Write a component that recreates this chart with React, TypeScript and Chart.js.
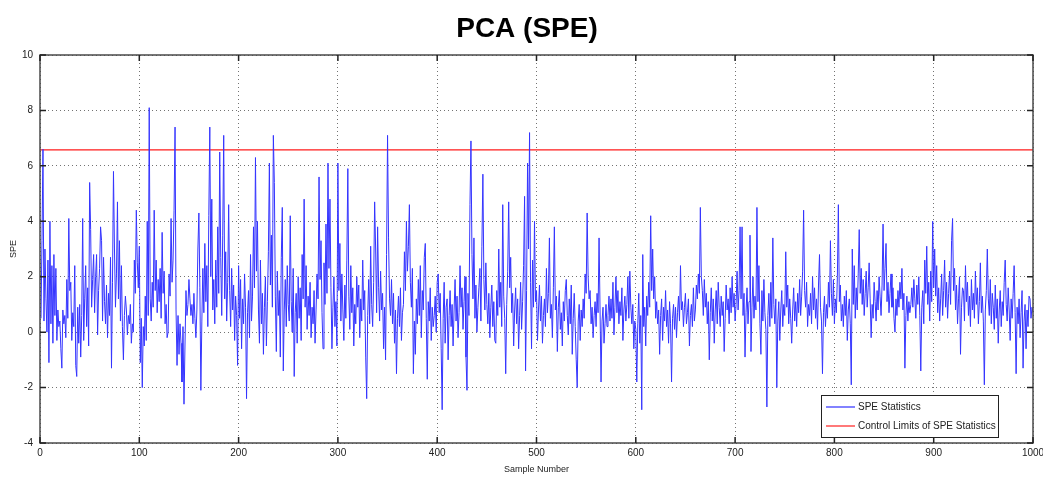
import { useEffect, useRef } from "react";
import { Chart, registerables } from "chart.js";

Chart.register(...registerables);

const TITLE = "PCA (SPE)";
const X_LABEL = "Sample Number";
const Y_LABEL = "SPE";
const SERIES_LABEL = "SPE Statistics";
const LIMIT_LABEL = "Control Limits of SPE Statistics";

const xTicks = [0, 100, 200, 300, 400, 500, 600, 700, 800, 900, 1000];
const yTicks = [-4, -2, 0, 2, 4, 6, 8, 10];
const limitX = [0, 1000];
const limitY = [6.58, 6.58];

const speValues = [
  0.5, 3.3, 6.6, 0.4, 3.0, 1.2, 0.0, 2.6, -1.1, 4.0, 0.3, 2.4, -0.4, 2.8, 0.6, 2.3, -0.3, 0.8, 0.2, 0.4, -0.6, -1.3, 0.8, 0.3, 0.6, -0.2, 1.9, 0.5, 4.1, 1.5, 1.8, -0.3, 0.7, 0.2, 2.4, -1.2, -1.6, 0.9, -0.4, 1.0, -0.9, 0.6, 4.1, -0.3, 1.2, 2.4, 0.2, 1.6, -0.5, 5.4,
  3.7, 0.9, 1.9, 2.8, 0.7, 2.0, 2.8, -0.1, 1.5, 2.3, 3.8, 3.3, 0.4, 2.7, 1.1, 0.3, 1.7, -0.2, 1.4, 0.6, 2.7, -1.3, 1.8, 5.8, 3.0, 0.9, 2.1, 4.7, 1.2, 3.3, 0.4, 2.4, 0.2, -1.0, 0.6, 1.3, 0.8, -0.1, 0.6, 0.3, 1.0, -0.4, 0.3, 0.0, 2.6, 1.4, 4.4, 2.5, 1.6, 3.1,
  -1.1, 0.5, -2.0, 0.2, -0.5, 1.3, -0.3, 4.0, 0.6, 8.1, 1.2, 0.4, 1.8, 0.9, 4.4, 1.5, 2.6, 0.7, 1.9, 1.1, 2.3, 0.5, 3.6, 1.4, 2.2, 0.3, 1.0, -0.2, 0.0, 2.1, 1.3, 4.1, 1.8, 2.6, 4.4, 7.4, 0.8, -1.2, 0.6, -0.8, 0.3, -0.4, -1.8, 0.2, -2.6, -0.5, 1.5, 0.6, 1.0, 1.9,
  1.2, 0.6, 1.0, 0.3, 1.4, 0.5, -0.2, 0.8, 3.0, 4.3, 1.6, -2.1, 0.4, 2.3, 0.7, 3.2, 1.1, 2.4, 0.2, 4.2, 7.4, 2.0, 4.8, 0.8, 1.9, 0.3, 2.6, 0.9, 3.8, 1.4, 6.5, 2.7, 0.6, 3.5, 7.1, 1.2, 2.9, 0.4, 1.8, 4.6, 1.5, 0.2, 2.3, 0.8, 1.7, -0.3, 1.3, 0.6, -1.2, 2.4,
  0.5, 1.9, -0.6, 1.2, 0.3, 2.1, 0.9, -2.4, 0.7, 1.5, -0.2, 2.8, 0.4, 1.3, 3.8, 1.6, 6.3, 2.2, 4.0, 0.8, -0.4, 2.6, 0.3, 1.4, -0.8, 0.9, 2.0, -0.5, 1.1, 2.9, 6.1, 1.7, 3.5, 0.9, 7.1, 5.4, 1.3, -0.7, 2.2, 0.6, 1.5, -0.9, 2.7, 4.5, -1.4, 0.8, 1.9, 0.2, 2.4, 1.0,
  0.4, 4.2, 1.1, 0.0, 2.3, -1.6, 0.7, 1.4, -0.4, 2.0, 0.5, 1.6, -0.3, 2.8, 1.2, 4.8, 0.9, 2.4, 0.1, 1.3, 0.6, 1.8, -0.2, 0.9, 0.3, 1.5, -0.4, 0.8, 2.1, 1.2, 5.6, 1.9, 3.3, 0.7, -0.6, 2.5, 1.0, 3.9, 1.4, 6.1, 2.3, 4.8, 1.6, -0.6, 0.9, 2.0, 0.2, 1.1, -0.5, 6.1,
  1.5, 3.2, 0.4, 2.1, 0.8, -0.3, 1.7, 0.5, 2.6, 5.9, 1.3, 0.1, 2.4, 0.7, 1.6, -0.5, 1.0, 0.3, 2.0, 0.9, 1.7, -0.2, 1.2, 0.4, 2.6, 0.8, 1.5, -0.9, -2.4, 0.6, 1.9, 0.3, 3.1, 1.0, 0.2, 1.8, 4.7, 3.0, 0.7, 3.8, 1.6, 0.4, 2.2, 0.8, 1.4, -0.6, 0.9, -1.0, 2.8, 7.1,
  3.4, 1.2, 0.6, 1.9, 0.3, 1.4, -0.4, 0.8, -1.5, 0.5, 1.3, 0.2, 1.6, -0.3, 0.7, 1.0, 2.9, 1.5, 4.0, 2.2, 3.1, 4.6, 1.8, 0.9, 2.3, -1.5, 0.4, -0.8, 1.2, 0.3, 1.9, 0.6, 2.4, -0.2, 1.5, 0.8, 2.7, 3.2, 0.5, -1.7, 1.1, 0.4, 1.6, -0.3, 0.9, 0.2, 0.6, 1.3, 0.0, 1.8,
  2.1, 0.7, 1.4, -0.6, -2.8, 0.5, 1.8, -0.4, 0.9, 1.2, -1.0, 0.6, 1.5, 0.2, 1.0, -0.5, 0.8, 1.9, 0.4, 1.3, -0.2, 0.7, 2.4, 0.9, 1.6, 0.1, 1.1, 2.0, -0.9, -2.1, 1.4, 0.6, 4.6, 6.9, 2.8, 1.2, 3.4, 0.5, 1.7, 0.0, 0.9, 1.6, 2.3, 0.4, 3.1, 5.7, 1.9, 0.8, 2.5, 1.0,
  0.3, 1.4, -0.2, 0.9, 1.7, 0.2, 1.1, -0.3, -0.4, 1.5, 0.6, 3.0, 0.9, 1.8, 0.2, 4.6, 1.3, 0.5, -1.5, 1.0, 2.2, 4.7, 1.6, 2.7, 0.7, 1.4, -0.5, 0.8, 1.6, 0.3, 1.2, -0.6, 0.6, 1.8, 0.1, 1.1, 2.4, 4.9, -1.4, 1.5, 6.1, 3.0, 7.2, 1.8, -0.6, 2.6, 0.9, 4.0, 1.1, 1.5,
  -0.3, 0.8, 1.7, 0.4, 1.3, -0.4, 0.6, 1.2, 0.2, 2.3, 0.7, 1.4, 3.4, 0.5, 1.0, -0.2, 1.6, 3.8, 0.8, 1.3, -0.7, 0.9, 1.5, 0.1, 0.7, -0.5, 1.1, 0.4, 1.5, 1.9, 0.6, -0.1, 1.2, 0.3, 1.7, -0.8, 0.5, 1.4, 0.2, -1.0, -2.0, 0.4, 1.0, -0.3, 0.8, 0.2, 1.2, 0.5, 2.1, 1.4,
  4.3, 2.0, 1.2, 1.5, 0.3, 0.9, -0.2, 0.6, 1.1, 0.2, 1.4, 0.7, 3.4, 0.8, -1.8, 0.4, 0.9, -0.4, 0.3, 1.0, 0.2, 0.6, 1.3, 0.4, 1.2, 0.5, 1.8, -0.1, 0.9, 2.0, 0.7, 1.5, 0.3, 1.1, 0.6, 1.6, -0.3, 0.8, 1.3, 0.4, 1.0, 2.0, 0.5, 2.2, 0.9, 0.3, 1.0, -0.6, 0.4, 0.1,
  -1.8, 0.3, 1.4, -0.4, 0.6, -2.8, 2.8, 0.2, 0.9, -0.5, 1.3, 0.6, 1.8, 0.9, 4.2, 1.5, 3.0, 1.2, 2.0, 0.5, 1.1, 0.3, 0.8, -0.8, 0.6, 1.2, -0.3, 0.9, 0.4, 1.5, 0.2, 0.8, -0.4, 1.1, 0.3, -1.8, 0.5, 1.0, 0.1, 0.9, -0.2, 0.7, 1.3, 0.4, 2.4, 0.8, 1.1, 0.2, 0.9, 1.4,
  0.3, 0.7, 1.2, -0.5, 0.6, 1.0, 0.2, 1.6, 0.4, 0.8, 1.7, 1.2, 2.1, 1.4, 4.5, 2.0, 1.5, 0.6, 1.9, 0.9, 1.4, 0.3, 1.1, -1.0, 0.7, 1.6, 0.4, 1.2, -0.4, 0.8, 1.5, 0.3, 1.8, 0.9, 0.2, 1.3, 0.6, 1.1, -0.7, 0.5, 1.7, 0.8, 1.2, 0.3, 1.6, 0.7, 2.0, 0.9, 1.4, 0.4,
  1.0, 2.2, 0.8, 1.5, 3.8, 1.2, 3.8, 0.6, 1.4, -0.9, 0.7, 1.6, 0.3, 1.1, 3.5, -0.7, 0.9, 2.0, 0.5, 1.3, 0.8, 4.5, 1.1, 2.4, 0.3, -0.8, 1.5, 0.4, 1.9, 0.7, 0.1, -2.7, 0.6, 1.4, 0.2, 1.8, 0.5, 3.4, 1.0, 0.3, 1.2, -2.0, 0.4, 1.1, -0.3, 0.8, 1.5, 0.2, 1.0, 0.6,
  2.9, 0.9, 1.7, 0.3, 1.2, 0.5, -0.4, 0.8, 1.6, 0.4, 1.1, 0.2, 1.4, 0.7, 1.9, 0.6, 1.3, 2.2, 4.4, 1.5, 0.9, 1.8, 0.2, 1.0, 0.6, 1.4, 0.3, 2.0, 0.8, 1.6, 0.5, 1.2, 0.1, 1.7, 2.8, 0.9, 0.4, -1.5, 0.7, 1.3, 0.2, 1.0, 0.5, 1.8, 0.9, 3.3, 1.4, 0.6, 1.9, 0.3,
  1.2, 0.7, 2.0, 4.6, 1.1, 1.7, 0.4, 1.0, 0.2, 1.3, 0.6, 1.5, -0.3, 0.8, 1.2, 0.3, -1.9, 3.0, 1.0, 2.4, 0.5, 1.6, 0.8, 2.1, 3.7, 1.4, 2.3, 1.0, 1.9, 0.6, 1.4, 2.2, 0.9, 1.6, 2.5, 1.2, -0.2, 1.0, 0.5, 1.8, 1.1, 0.4, 1.5, 0.8, 2.0, 1.3, 0.6, 1.7, 3.9, 1.5,
  2.3, 3.2, 1.1, 1.8, 0.7, 1.4, 2.1, 0.9, 1.6, 0.5, 0.0, 1.2, 0.6, 1.5, 0.9, 1.8, 1.2, 2.3, 0.8, 1.4, -1.3, 0.6, 1.3, 0.4, 1.1, 0.7, 1.0, 1.6, 0.9, 1.9, 1.2, 0.5, 1.7, 1.0, 2.0, 0.6, -1.4, 0.9, 1.5, 0.3, 2.6, 1.4, 3.1, 1.0, 1.8, 0.4, 2.2, 1.1, 4.0, 1.6,
  3.0, 1.3, 2.4, 0.7, 1.6, 0.4, 1.2, 2.1, 0.6, 1.5, 2.6, 0.9, 1.8, 0.5, 1.4, 2.2, 1.0, 3.3, 4.1, 1.5, 2.3, 0.8, 1.7, 0.3, 1.2, 2.0, -0.8, 0.9, 1.6, 1.5, 0.4, 2.4, 1.1, 1.8, 0.6, 1.3, 0.2, 1.9, 0.8, 1.4, 0.5, 2.2, 1.0, 1.6, 0.3, 1.1, 2.5, 0.7, 1.3, 0.4,
  -1.9, 0.8, 1.5, 3.0, 1.2, 0.6, 1.9, 0.3, 1.4, 0.9, 0.1, 1.7, 0.5, 1.2, -0.4, 0.8, 1.5, 0.2, 1.1, 0.6, 1.8, 2.6, 1.0, 0.4, 1.6, 0.8, -0.3, 1.2, 0.5, 1.4, 2.4, 0.7, -1.5, 0.9, 0.3, 1.2, -0.2, 0.7, 1.5, -1.3, 0.4, 1.0, -0.6, 0.8, 0.2, 1.3, 1.2, 0.5, 0.9, 0.7,
];

const sampleNumbers = speValues.map((_, i) => i + 1);

const SMALL_FONT = "'Liberation Sans Narrow', 'Arial Narrow', 'Liberation Sans', Arial, sans-serif";

const decorPlugin = {
  id: "decor",
  afterDraw(chart: any) {
    const { ctx, chartArea: a, scales } = chart;
    const xs = scales.x;
    const ys = scales.y;
    ctx.save();
    // frame
    ctx.strokeStyle = "#4a4a4a";
    ctx.lineWidth = 1.5;
    ctx.strokeRect(a.left, a.top, a.right - a.left, a.bottom - a.top);
    // inward tick marks
    ctx.strokeStyle = "#222";
    ctx.lineWidth = 1.5;
    ctx.beginPath();
    xTicks.forEach((v) => {
      const px = xs.getPixelForValue(v);
      ctx.moveTo(px, a.bottom);
      ctx.lineTo(px, a.bottom - 6);
      ctx.moveTo(px, a.top);
      ctx.lineTo(px, a.top + 6);
    });
    yTicks.forEach((v) => {
      const py = ys.getPixelForValue(v);
      ctx.moveTo(a.left, py);
      ctx.lineTo(a.left + 6, py);
      ctx.moveTo(a.right, py);
      ctx.lineTo(a.right - 6, py);
    });
    ctx.stroke();

    // title
    ctx.fillStyle = "#000";
    ctx.textAlign = "center";
    ctx.textBaseline = "middle";
    ctx.font = "bold 28px 'Liberation Sans', Arial, sans-serif";
    ctx.fillText(TITLE, 527, 29);

    // axis titles
    ctx.fillStyle = "#222";
    ctx.font = `9px ${SMALL_FONT}`;
    ctx.fillText(X_LABEL, (a.left + a.right) / 2, 470);
    ctx.save();
    ctx.translate(14, (a.top + a.bottom) / 2);
    ctx.rotate(-Math.PI / 2);
    ctx.fillText(Y_LABEL, 0, 0);
    ctx.restore();

    // legend
    const lx = 821, ly = 395, lw = 177, lh = 42;
    ctx.fillStyle = "#fff";
    ctx.fillRect(lx, ly, lw, lh);
    ctx.strokeStyle = "#222";
    ctx.lineWidth = 1;
    ctx.strokeRect(lx + 0.5, ly + 0.5, lw, lh);
    ctx.lineWidth = 1.2;
    ctx.strokeStyle = "#3030ff";
    ctx.beginPath();
    ctx.moveTo(826, 407);
    ctx.lineTo(855, 407);
    ctx.stroke();
    ctx.strokeStyle = "#ff2020";
    ctx.beginPath();
    ctx.moveTo(826, 426);
    ctx.lineTo(855, 426);
    ctx.stroke();
    ctx.fillStyle = "#222";
    ctx.textAlign = "left";
    ctx.font = `10px ${SMALL_FONT}`;
    ctx.fillText(SERIES_LABEL, 858, 407);
    ctx.fillText(LIMIT_LABEL, 858, 426);
    ctx.restore();
  },
};

export default function App() {
  const canvasRef = useRef<HTMLCanvasElement | null>(null);

  useEffect(() => {
    if (!canvasRef.current) return;
    const chart = new Chart(canvasRef.current, {
      type: "line",
      data: {
        datasets: [
          {
            label: SERIES_LABEL,
            data: speValues.map((v, i) => ({ x: sampleNumbers[i], y: v })),
            borderColor: "#3434ff",
            borderWidth: 1,
            pointRadius: 0,
            tension: 0,
          },
          {
            label: LIMIT_LABEL,
            data: limitX.map((x, i) => ({ x, y: limitY[i] })),
            borderColor: "#ff1a1a",
            borderWidth: 1.2,
            pointRadius: 0,
          },
        ],
      },
      options: {
        animation: false,
        responsive: false,
        maintainAspectRatio: false,
        layout: { padding: { top: 55, right: 10, left: 0, bottom: 0 } },
        plugins: {
          legend: { display: false },
          title: { display: false },
          tooltip: { enabled: false },
        },
        scales: {
          x: {
            type: "linear",
            min: 0,
            max: 1000,
            afterFit: (s: any) => {
              s.height = 43;
              s.paddingLeft = 0;
              s.paddingRight = 0;
            },
            afterBuildTicks: (s: any) => {
              s.ticks = xTicks.map((v) => ({ value: v }));
            },
            ticks: {
              color: "#222",
              padding: 4,
              maxRotation: 0,
              callback: (v: any) => String(v),
              font: { size: 10, family: SMALL_FONT },
            },
            grid: { drawTicks: false, color: "rgba(0,0,0,0.55)", lineWidth: 1 },
            border: { display: false, dash: [1, 3] },
          },
          y: {
            type: "linear",
            min: -4,
            max: 10,
            afterFit: (s: any) => {
              s.width = 40;
              s.paddingTop = 0;
              s.paddingBottom = 0;
            },
            afterBuildTicks: (s: any) => {
              s.ticks = yTicks.map((v) => ({ value: v }));
            },
            ticks: {
              color: "#222",
              padding: 7,
              callback: (v: any) => String(v),
              font: { size: 10, family: SMALL_FONT },
            },
            grid: { drawTicks: false, color: "rgba(0,0,0,0.55)", lineWidth: 1 },
            border: { display: false, dash: [1, 3] },
          },
        },
      },
      plugins: [decorPlugin],
    });
    return () => chart.destroy();
  }, []);

  return (
    <div style={{ position: "fixed", left: 0, top: 0, width: 1043, height: 486, background: "#fff" }}>
      <canvas ref={canvasRef} width={1043} height={486} style={{ width: 1043, height: 486, display: "block" }} />
    </div>
  );
}
